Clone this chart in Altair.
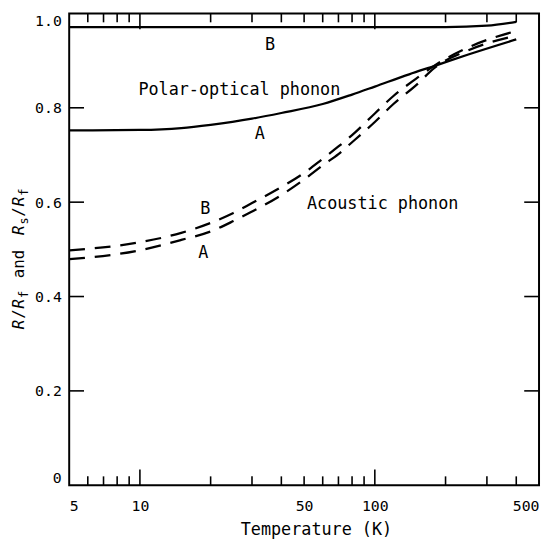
import math
import altair as alt
import pandas as pd

# ---- data ----
T_SOLID_A = [5, 10, 15, 20, 30, 40, 60, 80, 100, 140, 180, 250, 400]
V_SOLID_A = [0.752, 0.753, 0.757, 0.764, 0.777, 0.789, 0.808, 0.828, 0.845, 0.871, 0.889, 0.913, 0.945]

T_SOLID_B = [5, 10, 20, 50, 100, 200, 300, 400]
V_SOLID_B = [0.971, 0.971, 0.971, 0.971, 0.971, 0.971, 0.974, 0.982]

T_DASH = [5, 10, 15, 20, 25, 30, 40, 50, 60, 70, 80, 100, 120, 150, 180, 250, 400]
V_DASH_B = [0.498, 0.515, 0.535, 0.556, 0.577, 0.598, 0.632, 0.662, 0.692, 0.718, 0.742, 0.788, 0.825, 0.862, 0.890, 0.928, 0.963]
V_DASH_A = [0.479, 0.498, 0.520, 0.538, 0.560, 0.580, 0.615, 0.648, 0.678, 0.702, 0.727, 0.770, 0.808, 0.848, 0.885, 0.922, 0.953]

LABEL_TEXT = ["B", "Polar-optical phonon", "A", "B", "A", "Acoustic phonon"]
LABEL_T = [35.8, 26.5, 32.4, 19.0, 18.6, 108.0]
LABEL_V = [0.933, 0.837, 0.745, 0.586, 0.492, 0.596]

X_LABELS = [5, 10, 50, 100, 500]
Y_LABELS = [0, 0.2, 0.4, 0.6, 0.8, 1.0]
X_MAJOR = [10, 100]
X_MINOR = [6, 7, 8, 9, 20, 30, 40, 50, 60, 70, 80, 90, 200, 300, 400]
Y_MAJOR = [0.2, 0.4, 0.6, 0.8]

# ---- layout ----
W, H = 476, 478
FONT = "DejaVu Sans Mono"
XMIN, XMAX = 5, 500
DEC_PX = W / math.log10(XMAX / XMIN)

xs = alt.Scale(type="log", domain=[XMIN, XMAX], nice=False)
ys = alt.Scale(domain=[0, 1], nice=False)

xaxis = alt.Axis(values=X_LABELS, ticks=False, domain=False, grid=False,
                 labelFont=FONT, labelFontSize=15, labelPadding=14, labelColor="black",
                 labelFlush=True, titleFont=FONT, titleFontSize=17, titleFontWeight="normal",
                 titleColor="black", titleX=250, titleY=50, titleAlign="center",
                 titleBaseline="alphabetic")
yaxis = alt.Axis(values=Y_LABELS, ticks=False, domain=False, grid=False,
                 labelFont=FONT, labelFontSize=15, labelPadding=8, labelColor="black",
                 labelFlush=True,
                 labelExpr="datum.value == 0 ? '0' : format(datum.value, '.1f')")

X = alt.X("T:Q", scale=xs, axis=xaxis, title="Temperature (K)")
Y = alt.Y("v:Q", scale=ys, axis=yaxis, title=None)


def curve(T, V, dash=None):
    df = pd.DataFrame({"T": T, "v": V})
    kw = dict(color="black", strokeWidth=2.3, interpolate="monotone")
    if dash:
        kw["strokeDash"] = dash
    return alt.Chart(df).mark_line(**kw).encode(x=X, y=Y)


layers = [
    curve(T_SOLID_A, V_SOLID_A),
    curve(T_SOLID_B, V_SOLID_B),
    curve(T_DASH, V_DASH_B, [16, 10]),
    curve(T_DASH, V_DASH_A, [16, 10]),
]


# inward ticks on all four sides
def vticks(vals, length_px, top):
    dv = length_px / H
    v0 = 1.0 if top else 0.0
    v1 = v0 - dv if top else v0 + dv
    df = pd.DataFrame({"T": vals, "v": [v0] * len(vals), "v2": [v1] * len(vals)})
    return alt.Chart(df).mark_rule(color="black", strokeWidth=1.6).encode(
        x=X, y=Y, y2="v2:Q")


def hticks(vals, length_px, right):
    f = 10 ** (length_px / DEC_PX)
    t0 = XMAX if right else XMIN
    t1 = t0 / f if right else t0 * f
    df = pd.DataFrame({"T": [t0] * len(vals), "T2": [t1] * len(vals), "v": vals})
    return alt.Chart(df).mark_rule(color="black", strokeWidth=1.6).encode(
        x=X, x2="T2:Q", y=Y)


for top in (False, True):
    layers.append(vticks(X_MAJOR, 16, top))
    layers.append(vticks(X_MINOR, 9, top))
for right in (False, True):
    layers.append(hticks(Y_MAJOR, 15, right))

# annotations
ann = pd.DataFrame({"T": LABEL_T, "v": LABEL_V, "label": LABEL_TEXT})
layers.append(alt.Chart(ann).mark_text(font=FONT, fontSize=17, color="black",
                                        align="center", baseline="middle").encode(
    x=X, y=Y, text="label:N"))

# rotated y-axis title with subscripts: R/R_f and R_s/R_f
# (text, font size, italic, subscript, gap after)
TITLE_PIECES = [("R", 16, True, False, 0), ("/", 16, False, False, 0), ("R", 16, True, False, 0),
                ("f", 12, False, True, 12), ("and", 16, False, False, 12), ("R", 16, True, False, 0),
                ("s", 12, False, True, 0), ("/", 16, False, False, 0), ("R", 16, True, False, 0),
                ("f", 12, False, True, 0)]
one = pd.DataFrame({"k": [0]})
ypos = 320.0
xbase = -46.0
for txt, size, ital, sub, gap in TITLE_PIECES:
    kw = dict(text=txt, font=FONT, fontSize=size, color="black", angle=270,
              align="left", baseline="alphabetic")
    if ital:
        kw["fontStyle"] = "italic"
    xv = xbase + (4 if sub else 0)
    layers.append(alt.Chart(one).mark_text(**kw).encode(x=alt.value(xv), y=alt.value(ypos)))
    ypos -= 0.602 * size * len(txt) * 1.1 + gap

chart = alt.layer(*layers).properties(
    width=W, height=H,
    autosize=alt.AutoSizeParams(type="none"),
    padding={"left": 62, "top": 2, "right": 2, "bottom": 55},
    background="white",
).configure_view(stroke="black", strokeWidth=2)

chart.save("out.html", embed_options={"renderer": "svg", "actions": False})
